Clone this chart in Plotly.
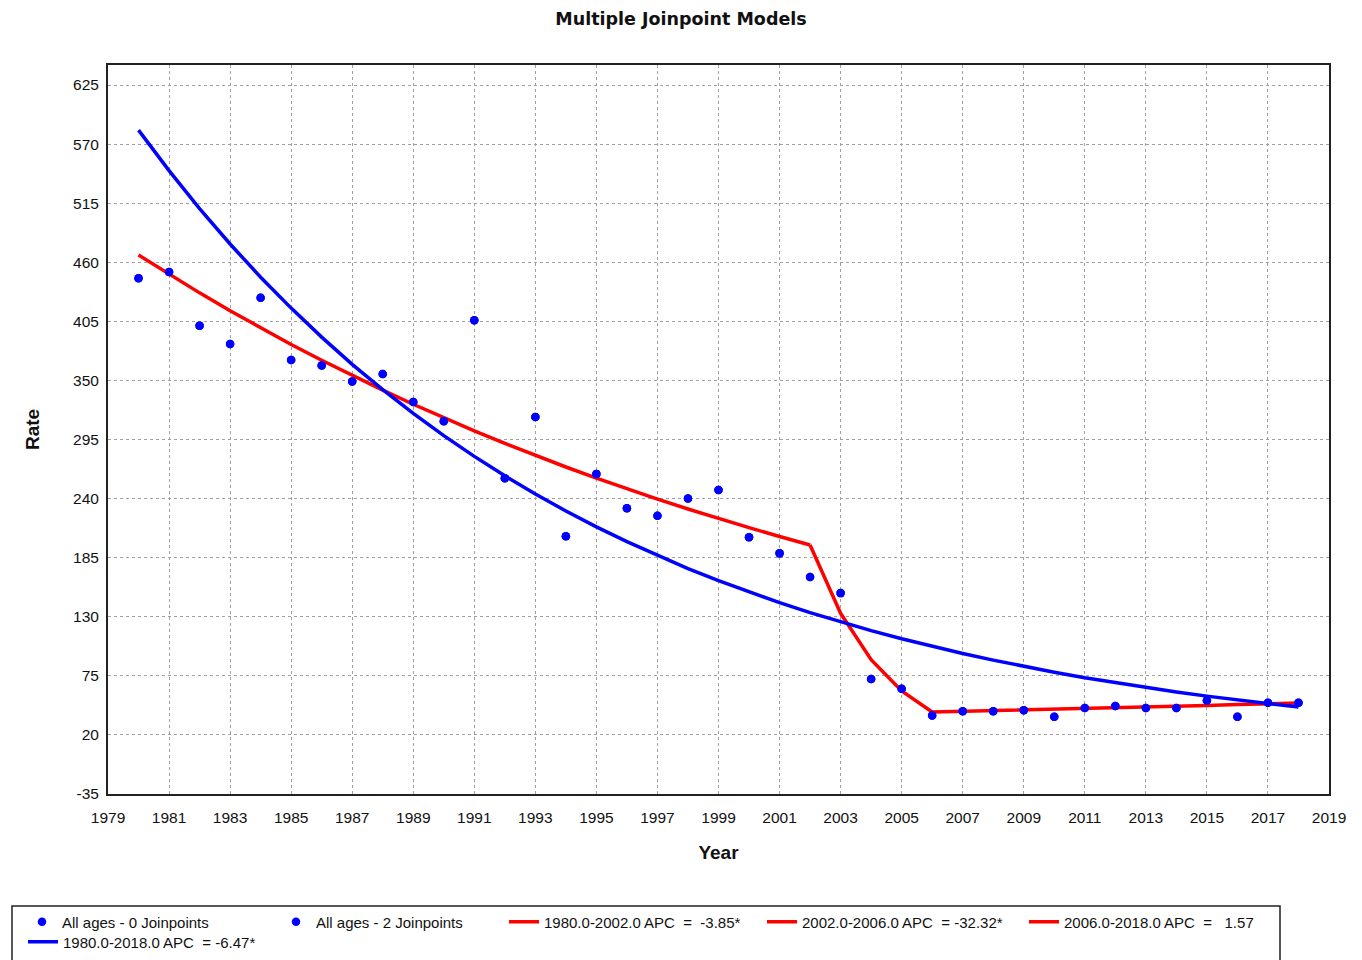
import plotly.graph_objects as go

W, H = 1362, 960
L, R, T, B = 108, 1329, 65, 794  # plot area pixel bounds

years = list(range(1980, 2019))
observed = [445, 451, 401, 384, 427, 369, 364, 349, 356, 330, 312, 406, 259, 316,
            205, 263, 231, 224, 240, 248, 204, 189, 167, 152, 72, 63, 38, 42, 42,
            43, 37, 45, 47, 45, 45, 52, 37, 50, 50]

# 0-joinpoint fitted line (blue)
fit0 = [583.0, 545.3, 510.0, 477.0, 446.1, 417.3, 390.3, 365.0, 341.4, 319.3,
        298.6, 279.3, 261.2, 244.3, 228.5, 213.7, 199.9, 187.0, 174.9, 163.6,
        153.0, 143.1, 133.8, 125.2, 117.1, 109.5, 102.4, 95.8, 89.6, 83.8,
        78.4, 73.3, 68.6, 64.1, 60.0, 56.1, 52.5, 49.1, 45.9]

# 2-joinpoint fitted segments (red)
seg1_years = list(range(1980, 2003))
seg1_vals = [466.7, 448.7, 431.5, 414.9, 398.9, 383.5, 368.8, 354.6, 340.9, 327.8,
             315.2, 303.1, 291.4, 280.2, 269.4, 259.1, 249.1, 239.5, 230.3, 221.4,
             212.9, 204.7, 196.8]
seg2_years = [2002, 2003, 2004, 2005, 2006]
seg2_vals = [196.8, 133.2, 90.1, 61.0, 41.3]
seg3_years = list(range(2006, 2019))
seg3_vals = [41.3, 41.9, 42.6, 43.3, 43.9, 44.6, 45.3, 46.0, 46.8, 47.5, 48.2, 49.0, 49.8]

ytick_vals = [-35, 20, 75, 130, 185, 240, 295, 350, 405, 460, 515, 570, 625]
ytick_text = ["-35", "20", "75", "130", "185", "240", "295", "350", "405", "460",
              "515", "570", "625"]
xtick_vals = list(range(1979, 2020, 2))
xtick_text = [str(v) for v in xtick_vals]

names = ["All ages - 0 Joinpoints", "All ages - 2 Joinpoints",
         "1980.0-2002.0 APC  =  -3.85*", "2002.0-2006.0 APC  = -32.32*",
         "2006.0-2018.0 APC  =   1.57", "1980.0-2018.0 APC  = -6.47*"]

BLUE = "rgb(0,0,255)"
RED = "rgb(255,0,0)"
FONT = "Liberation Sans, Arial, sans-serif"
TXT = "#111"

fig = go.Figure()
fig.add_trace(go.Scatter(x=seg1_years, y=seg1_vals, mode="lines", name=names[2],
                         line=dict(color=RED, width=3.5), legend="legend3"))
fig.add_trace(go.Scatter(x=seg2_years, y=seg2_vals, mode="lines", name=names[3],
                         line=dict(color=RED, width=3.5), legend="legend4"))
fig.add_trace(go.Scatter(x=seg3_years, y=seg3_vals, mode="lines", name=names[4],
                         line=dict(color=RED, width=3.5), legend="legend5"))
fig.add_trace(go.Scatter(x=years, y=fit0, mode="lines", name=names[5],
                         line=dict(color=BLUE, width=3.5), legend="legend6"))
fig.add_trace(go.Scatter(x=years, y=observed, mode="markers", name=names[0],
                         marker=dict(color=BLUE, size=8.5), legend="legend"))
fig.add_trace(go.Scatter(x=years, y=observed, mode="markers", name=names[1],
                         marker=dict(color=BLUE, size=8.5), legend="legend2"))

# legend item starting x (px) and row centre y (px)
leg_pos = {"legend": (22, 922), "legend2": (276, 922), "legend3": (504, 922),
           "legend4": (762, 922), "legend5": (1024, 922), "legend6": (23, 942)}
legends = {}
for k, (px, py) in leg_pos.items():
    legends[k] = dict(xref="container", yref="container", x=px / W, y=1 - py / H,
                      xanchor="left", yanchor="middle", orientation="h",
                      bgcolor="rgba(0,0,0,0)", borderwidth=0,
                      font=dict(family=FONT, size=15, color=TXT))

axis_common = dict(showgrid=True, gridcolor="#a0a0a0", griddash="dot", gridwidth=1,
                   showline=True, linecolor="#222", linewidth=2, mirror=True,
                   zeroline=False, ticks="", tickmode="array",
                   tickfont=dict(family=FONT, size=15.5, color=TXT))

fig.update_layout(
    width=W, height=H,
    margin=dict(l=L, r=W - R, t=T, b=H - B, autoexpand=False),
    paper_bgcolor="white", plot_bgcolor="white",
    title=dict(text="Multiple Joinpoint Models", x=0.5, xanchor="center",
               xref="container", yref="container", y=1 - 19 / H, yanchor="middle",
               font=dict(family="DejaVu Sans, Verdana, sans-serif", size=17.5,
                         color=TXT, weight="bold")),
    xaxis=dict(range=[1979, 2019], tickvals=xtick_vals, ticktext=xtick_text,
               ticklabelstandoff=8,
               title=dict(text="Year", standoff=21,
                          font=dict(family=FONT, size=19, color=TXT, weight="bold")),
               **axis_common),
    yaxis=dict(range=[-35, 625 + (85 - T) * 660 / 709], tickvals=ytick_vals,
               ticktext=ytick_text, ticklabelstandoff=4,
               title=dict(text="Rate", standoff=28,
                          font=dict(family=FONT, size=19, color=TXT, weight="bold")),
               **axis_common),
    showlegend=True,
    **legends,
)

# legend frame
fig.add_shape(type="rect", xref="paper", yref="paper",
              x0=(12 - L) / (R - L), x1=(1280 - L) / (R - L),
              y0=(B - 906) / (B - T), y1=(B - 975) / (B - T),
              line=dict(color="#222", width=1.5), fillcolor="rgba(0,0,0,0)", layer="below")

fig.write_html("out.html")
